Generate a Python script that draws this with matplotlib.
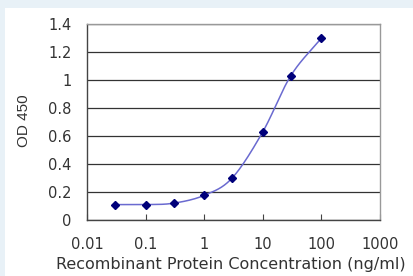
import numpy as np
import matplotlib.pyplot as plt
from matplotlib.patches import Rectangle

plt.rcParams['font.family'] = ['DejaVu Sans']

# data
conc = [0.03, 0.1, 0.3, 1, 3, 10, 30, 100]
od = [0.11, 0.11, 0.12, 0.176, 0.30, 0.63, 1.03, 1.30]
xticks = [0.01, 0.1, 1, 10, 100, 1000]
xlabels = ['0.01', '0.1', '1', '10', '100', '1000']
yticks = [0, 0.2, 0.4, 0.6, 0.8, 1, 1.2, 1.4]
ylabels = ['0', '0.2', '0.4', '0.6', '0.8', '1', '1.2', '1.4']

W, H = 414, 276


def smooth(x, y, n=30):
    # Catmull-Rom through the points, like the Excel smoothed line
    p = np.column_stack([x, y])
    p = np.vstack([2 * p[0] - p[1], p, 2 * p[-1] - p[-2]])
    out = []
    t = np.linspace(0, 1, n)[:, None]
    for i in range(1, len(p) - 2):
        p0, p1, p2, p3 = p[i - 1], p[i], p[i + 1], p[i + 2]
        seg = 0.5 * ((2 * p1) + (-p0 + p2) * t + (2 * p0 - 5 * p1 + 4 * p2 - p3) * t ** 2
                     + (-p0 + 3 * p1 - 3 * p2 + p3) * t ** 3)
        out.append(seg)
    s = np.vstack(out)
    return s[:, 0], s[:, 1]


fig = plt.figure(figsize=(W / 100, H / 100), dpi=100)
fig.patch.set_facecolor('#e8f1f7')
fig.patches.append(Rectangle((5 / W, 0), 1, 1 - 8 / H, transform=fig.transFigure,
                             facecolor='white', edgecolor='none', zorder=-10))

ax = fig.add_axes([87 / W, 1 - 220 / H, 293 / W, 196 / H])
ax.set_xscale('log')
ax.set_xlim(0.01, 1000)
ax.set_ylim(0, 1.4)

# smooth in log-x, scaled y so the curve looks like the Excel one
sx, sy = smooth(np.log10(conc), np.array(od) * 4.0)
ax.plot(10 ** sx, sy / 4.0, color='#6a6ad0', linewidth=1.1, zorder=3)
ax.plot(conc, od, linestyle='none', marker='D', markersize=4.5, color='#00007a', zorder=4)

ax.set_yticks(yticks)
ax.set_yticklabels(ylabels)
ax.set_xticks(xticks)
ax.set_xticklabels(xlabels)
ax.minorticks_off()
ax.grid(axis='y', color='#333333', linewidth=0.9)
ax.set_axisbelow(True)
for s in ax.spines.values():
    s.set_color('#999999')
    s.set_linewidth(1.0)
ax.spines['bottom'].set_color('#444444')
ax.spines['left'].set_color('#444444')
ax.tick_params(axis='y', length=0, pad=11, labelsize=10.5, colors='#333333')
ax.tick_params(axis='x', direction='in', length=4, color='#444444', pad=12,
               labelsize=10.5, labelcolor='#333333')

fig.text(24 / W, 1 - 121 / H, 'OD 450', rotation=90, ha='center', va='center',
         fontsize=11, color='#333333', family='Liberation Sans')
fig.text(231 / W, 1 - 264 / H, 'Recombinant Protein Concentration (ng/ml)',
         ha='center', va='center', fontsize=11.5, color='#333333')

fig.savefig('out.png', dpi=100)
